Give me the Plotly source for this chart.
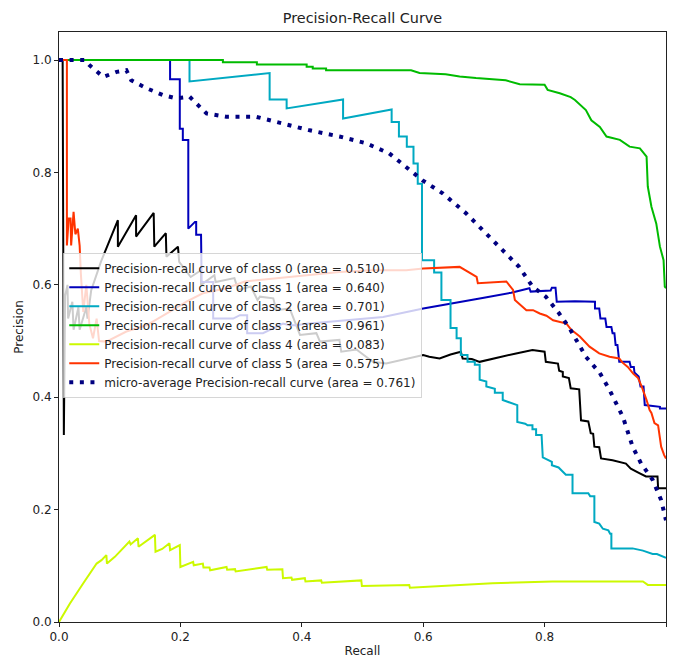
import plotly.graph_objects as go

# Precision-recall points (recall, precision) for each class
class_0_pr = [(0, 1.0), (0.006, 1.0), (0.008, 0.333), (0.010, 0.58), (0.014, 0.60), (0.015, 0.54),
              (0.022, 0.57), (0.024, 0.52), (0.032, 0.56), (0.034, 0.52), (0.045, 0.56), (0.047, 0.54),
              (0.053, 0.59), (0.069, 0.641), (0.097, 0.715), (0.097, 0.668), (0.127, 0.724), (0.127, 0.686),
              (0.156, 0.728), (0.157, 0.668), (0.176, 0.692), (0.177, 0.650), (0.196, 0.668), (0.198, 0.641),
              (0.217, 0.614), (0.234, 0.626), (0.234, 0.600), (0.256, 0.617), (0.258, 0.605), (0.289, 0.612),
              (0.295, 0.591), (0.316, 0.597), (0.327, 0.573), (0.331, 0.579), (0.353, 0.576), (0.358, 0.555),
              (0.380, 0.558), (0.397, 0.511), (0.424, 0.514), (0.430, 0.499), (0.462, 0.502), (0.465, 0.481),
              (0.490, 0.485), (0.517, 0.463), (0.539, 0.460), (0.570, 0.468), (0.600, 0.475), (0.610, 0.472),
              (0.627, 0.469), (0.645, 0.476), (0.662, 0.481), (0.665, 0.469), (0.680, 0.468), (0.693, 0.463),
              (0.720, 0.470), (0.753, 0.478), (0.780, 0.484), (0.800, 0.481), (0.802, 0.463), (0.822, 0.460),
              (0.824, 0.447), (0.830, 0.445), (0.830, 0.437), (0.840, 0.434), (0.843, 0.416), (0.857, 0.414),
              (0.860, 0.359), (0.872, 0.357), (0.876, 0.336), (0.880, 0.335), (0.882, 0.312), (0.890, 0.311),
              (0.893, 0.291), (0.912, 0.288), (0.934, 0.282), (0.942, 0.273), (0.956, 0.265), (0.967, 0.259),
              (0.986, 0.259), (0.987, 0.238), (1.0, 0.238)]

class_1_pr = [(0, 1.0), (0.183, 1.0), (0.183, 0.966), (0.199, 0.966), (0.199, 0.878), (0.204, 0.878),
              (0.204, 0.858), (0.213, 0.858), (0.213, 0.700), (0.224, 0.712), (0.226, 0.712), (0.226, 0.689),
              (0.234, 0.689), (0.235, 0.605), (0.254, 0.605), (0.254, 0.540), (0.287, 0.540), (0.298, 0.546),
              (0.310, 0.546), (0.310, 0.514), (0.336, 0.514), (0.369, 0.531), (0.380, 0.528), (0.391, 0.528),
              (0.408, 0.531), (0.470, 0.537), (0.534, 0.543), (0.600, 0.558), (0.650, 0.567), (0.700, 0.577),
              (0.745, 0.586), (0.775, 0.594), (0.777, 0.588), (0.810, 0.590), (0.812, 0.595), (0.818, 0.595),
              (0.820, 0.570), (0.850, 0.571), (0.883, 0.570), (0.883, 0.558), (0.890, 0.558), (0.892, 0.540),
              (0.900, 0.540), (0.902, 0.525), (0.910, 0.525), (0.912, 0.514), (0.915, 0.514), (0.917, 0.493),
              (0.920, 0.493), (0.923, 0.463), (0.940, 0.463), (0.942, 0.454), (0.947, 0.454), (0.948, 0.444),
              (0.955, 0.437), (0.958, 0.419), (0.963, 0.419), (0.965, 0.386), (0.990, 0.383), (0.990, 0.380),
              (1.0, 0.380)]

class_2_pr = [(0, 1.0), (0.215, 1.0), (0.215, 0.962), (0.347, 0.977), (0.347, 0.930), (0.375, 0.930),
              (0.375, 0.914), (0.468, 0.930), (0.468, 0.896), (0.548, 0.912), (0.548, 0.890), (0.560, 0.890),
              (0.560, 0.864), (0.573, 0.864), (0.573, 0.846), (0.584, 0.846), (0.584, 0.816), (0.591, 0.816),
              (0.591, 0.780), (0.598, 0.780), (0.598, 0.644), (0.618, 0.644), (0.618, 0.622), (0.630, 0.622),
              (0.630, 0.573), (0.645, 0.573), (0.645, 0.523), (0.655, 0.523), (0.655, 0.505), (0.662, 0.505),
              (0.662, 0.475), (0.673, 0.475), (0.673, 0.463), (0.685, 0.463), (0.685, 0.458), (0.693, 0.458),
              (0.693, 0.431), (0.704, 0.428), (0.704, 0.419), (0.718, 0.415), (0.718, 0.408), (0.731, 0.408),
              (0.731, 0.395), (0.752, 0.386), (0.755, 0.386), (0.755, 0.356), (0.768, 0.353), (0.772, 0.350),
              (0.780, 0.350), (0.780, 0.343), (0.786, 0.343), (0.786, 0.333), (0.795, 0.333), (0.797, 0.293),
              (0.812, 0.285), (0.812, 0.279), (0.823, 0.275), (0.835, 0.262), (0.846, 0.262), (0.846, 0.229),
              (0.872, 0.229), (0.875, 0.224), (0.882, 0.224), (0.882, 0.178), (0.890, 0.175), (0.896, 0.166),
              (0.905, 0.163), (0.908, 0.157), (0.910, 0.157), (0.910, 0.131), (0.945, 0.131), (0.962, 0.127),
              (0.978, 0.121), (0.985, 0.121), (1.0, 0.114)]

class_3_pr = [(0, 1.0), (0.270, 1.0), (0.270, 0.996), (0.326, 0.996), (0.326, 0.992), (0.408, 0.992),
              (0.408, 0.988), (0.418, 0.988), (0.418, 0.985), (0.440, 0.985), (0.440, 0.982), (0.580, 0.982),
              (0.594, 0.977), (0.637, 0.975), (0.660, 0.971), (0.687, 0.968), (0.736, 0.964), (0.759, 0.957),
              (0.800, 0.956), (0.805, 0.947), (0.825, 0.941), (0.843, 0.934), (0.850, 0.929), (0.868, 0.911),
              (0.877, 0.893), (0.891, 0.881), (0.902, 0.864), (0.924, 0.858), (0.940, 0.846), (0.957, 0.843),
              (0.968, 0.828), (0.970, 0.775), (0.976, 0.739), (0.984, 0.709), (0.990, 0.668), (0.996, 0.644),
              (0.998, 0.597), (1.0, 0.594)]

class_4_pr = [(0, 0.0), (0.018, 0.033), (0.040, 0.069), (0.062, 0.104), (0.070, 0.110), (0.078, 0.119),
              (0.079, 0.104), (0.092, 0.116), (0.116, 0.143), (0.118, 0.138), (0.130, 0.149), (0.131, 0.134),
              (0.158, 0.155), (0.159, 0.125), (0.170, 0.130), (0.182, 0.140), (0.183, 0.128), (0.199, 0.137),
              (0.200, 0.098), (0.221, 0.107), (0.222, 0.101), (0.237, 0.104), (0.238, 0.097), (0.248, 0.097),
              (0.249, 0.092), (0.276, 0.098), (0.277, 0.093), (0.290, 0.094), (0.291, 0.090), (0.342, 0.098),
              (0.343, 0.093), (0.368, 0.094), (0.369, 0.078), (0.383, 0.079), (0.384, 0.075), (0.405, 0.078),
              (0.406, 0.072), (0.432, 0.074), (0.433, 0.070), (0.463, 0.072), (0.498, 0.074), (0.499, 0.064),
              (0.577, 0.066), (0.578, 0.061), (0.650, 0.065), (0.714, 0.069), (0.813, 0.072), (0.962, 0.072),
              (0.970, 0.066), (1.0, 0.066)]

class_5_pr = [(0, 1.0), (0.013, 1.0), (0.013, 0.670), (0.016, 0.718), (0.019, 0.718), (0.020, 0.670),
              (0.024, 0.730), (0.027, 0.690), (0.031, 0.700), (0.034, 0.670), (0.036, 0.620), (0.040, 0.552),
              (0.045, 0.600), (0.050, 0.530), (0.056, 0.505), (0.062, 0.540), (0.066, 0.500), (0.078, 0.499),
              (0.111, 0.517), (0.144, 0.528), (0.182, 0.552), (0.210, 0.570), (0.237, 0.585), (0.276, 0.594),
              (0.306, 0.606), (0.408, 0.617), (0.462, 0.623), (0.517, 0.626), (0.572, 0.626), (0.600, 0.629),
              (0.660, 0.632), (0.688, 0.614), (0.690, 0.603), (0.737, 0.606), (0.748, 0.591), (0.751, 0.573),
              (0.770, 0.555), (0.781, 0.555), (0.792, 0.549), (0.803, 0.545), (0.814, 0.537), (0.836, 0.531),
              (0.844, 0.520), (0.858, 0.508), (0.874, 0.490), (0.890, 0.478), (0.907, 0.472), (0.923, 0.469),
              (0.928, 0.462), (0.937, 0.454), (0.946, 0.442), (0.954, 0.434), (0.960, 0.419), (0.968, 0.395),
              (0.973, 0.377), (0.976, 0.372), (0.981, 0.354), (0.987, 0.350), (0.992, 0.312), (0.997, 0.297),
              (1.0, 0.291)]

micro_pr = [(0, 1.0), (0.042, 1.0), (0.050, 0.991), (0.073, 0.970), (0.095, 0.979), (0.111, 0.982),
            (0.119, 0.964), (0.144, 0.950), (0.171, 0.938), (0.193, 0.932), (0.215, 0.935), (0.226, 0.923),
            (0.243, 0.905), (0.276, 0.899), (0.325, 0.899), (0.369, 0.887), (0.413, 0.875), (0.462, 0.864),
            (0.506, 0.852), (0.544, 0.834), (0.577, 0.804), (0.599, 0.786), (0.632, 0.763), (0.671, 0.727),
            (0.703, 0.692), (0.736, 0.656), (0.758, 0.632), (0.780, 0.597), (0.802, 0.579), (0.824, 0.549),
            (0.841, 0.523), (0.868, 0.472), (0.891, 0.443), (0.907, 0.413), (0.929, 0.365), (0.945, 0.312),
            (0.959, 0.282), (0.978, 0.253), (0.992, 0.217), (1.0, 0.181)]

class_areas = [0.510, 0.640, 0.701, 0.961, 0.083, 0.575]
micro_area = 0.761
class_colors = ["#000000", "#0000bb", "#00a9c2", "#00bb00", "#ccf900", "#ff3300"]
class_curves = [class_0_pr, class_1_pr, class_2_pr, class_3_pr, class_4_pr, class_5_pr]

FONT = "DejaVu Sans"
TEXT = "#222"

fig = go.Figure()
for i, (pts, area, color) in enumerate(zip(class_curves, class_areas, class_colors)):
    fig.add_trace(go.Scatter(
        x=[p[0] for p in pts], y=[p[1] for p in pts], mode="lines",
        line=dict(color=color, width=2),
        name=f"Precision-recall curve of class {i} (area = {area:.3f})",
    ))

fig.add_trace(go.Scatter(
    x=[p[0] for p in micro_pr], y=[p[1] for p in micro_pr], mode="lines",
    line=dict(color="navy", width=4, dash="4px,6.6px"),
    name=f"micro-average Precision-recall curve (area = {micro_area:.3f})",
))

axis_common = dict(
    showline=True, mirror=True, linecolor="#222", linewidth=1,
    ticks="outside", ticklen=4, tickwidth=1, tickcolor="#222",
    showgrid=False, zeroline=False, tickformat=".1f", automargin=False,
    tickfont=dict(family=FONT, size=12, color=TEXT),
)

fig.update_layout(
    width=673, height=660,
    margin=dict(l=59, r=7, t=32, b=38),
    paper_bgcolor="white", plot_bgcolor="white",
    title=dict(text="Precision-Recall Curve", x=0.5, xref="paper", xanchor="center",
               y=1 - 18 / 660, yref="container", yanchor="middle", automargin=False,
               font=dict(family=FONT, size=14.4, color=TEXT)),
    xaxis=dict(range=[0, 1], dtick=0.2, tick0=0,
               title=dict(text="Recall", standoff=3, font=dict(family=FONT, size=12, color=TEXT)),
               **axis_common),
    yaxis=dict(range=[0, 1.05], dtick=0.2, tick0=0,
               title=dict(text="Precision", standoff=6, font=dict(family=FONT, size=12, color=TEXT)),
               **axis_common),
    legend=dict(x=0.007, y=0.503, xanchor="left", yanchor="middle",
                bgcolor="rgba(255,255,255,0.8)", bordercolor="rgba(204,204,204,0.8)", borderwidth=1,
                font=dict(family=FONT, size=12, color=TEXT), itemwidth=30, tracegroupgap=0),
    showlegend=True,
)

fig.write_html("out.html")
